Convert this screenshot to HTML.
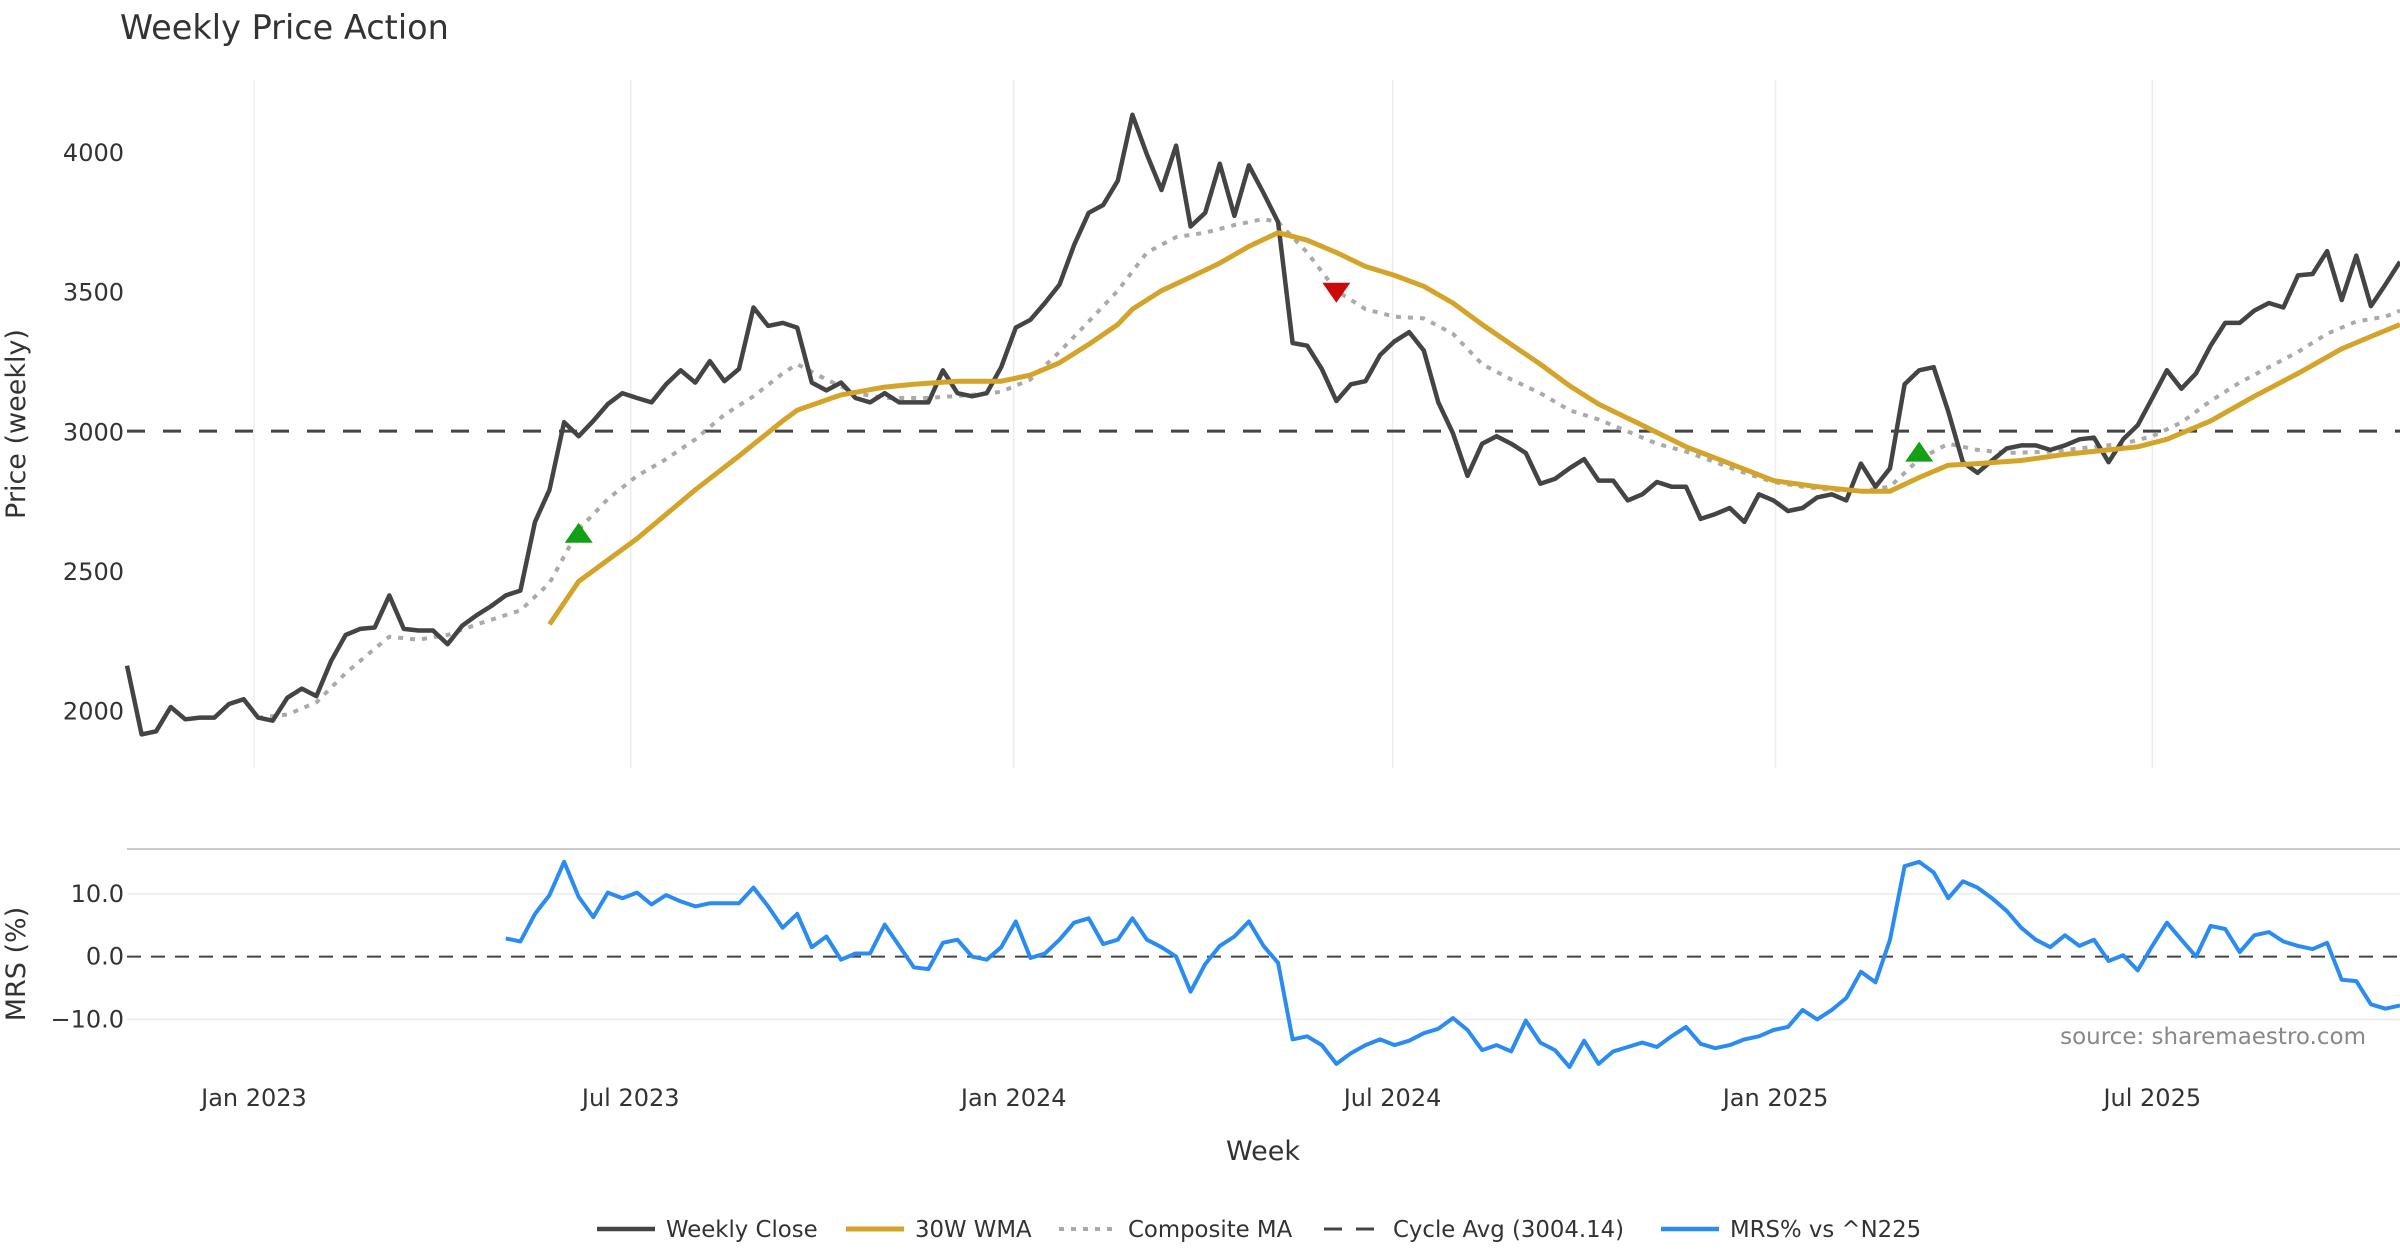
<!DOCTYPE html>
<html><head><meta charset="utf-8"><title>Weekly Price Action</title>
<style>
html,body{margin:0;padding:0;background:#fff;}
svg{display:block;font-family:"DejaVu Sans","Liberation Sans",sans-serif;}
</style></head>
<body>
<svg id="chart" width="2400" height="1260" viewBox="0 0 2400 1260" xmlns="http://www.w3.org/2000/svg">
<text x="120" y="39" font-size="33.5" fill="#333">Weekly Price Action</text>
<g id="price-panel"></g>
<g id="mrs-panel"></g>
<text transform="translate(25,424) rotate(-90)" text-anchor="middle" font-size="27" fill="#333">Price (weekly)</text>
<text transform="translate(25,964) rotate(-90)" text-anchor="middle" font-size="27" fill="#333">MRS (%)</text>
<text x="1263" y="1160" text-anchor="middle" font-size="27" fill="#333">Week</text>
<text x="2366" y="1044" text-anchor="end" font-size="23" fill="#888">source: sharemaestro.com</text>
<g id="legend"></g>
</svg>
<script>
const startDate = "2022-11-01";
const closeValues = [2164,1918,1929,2016,1972,1978,1978,2027,2044,1978,
1967,2049,2082,2055,2180,2274,2296,2301,2416,2296,
2290,2290,2241,2307,2345,2378,2416,2433,2679,2794,
3036,2986,3041,3101,3140,3123,3107,3172,3222,3178,
3255,3183,3227,3447,3381,3392,3375,3178,3150,3178,
3123,3107,3140,3107,3107,3107,3222,3140,3129,3140,
3233,3375,3403,3463,3529,3671,3786,3814,3901,4137,
3995,3868,4027,3737,3786,3962,3775,3956,3857,3753,
3320,3310,3227,3112,3172,3183,3277,3326,3359,3293,
3107,2997,2844,2959,2986,2959,2926,2816,2833,2871,
2904,2827,2827,2756,2778,2822,2805,2805,2690,2707,
2729,2679,2778,2756,2718,2729,2767,2778,2756,2888,
2805,2871,3172,3222,3233,3074,2893,2855,2899,2942,
2953,2953,2937,2953,2975,2981,2893,2975,3025,3123,
3222,3156,3211,3310,3392,3392,3436,3463,3447,3562,
3567,3649,3474,3633,3452,3529,3611];
const wmaWeeks = [29,31,35,39,42,45,46,49,52,54,57,60,62,64,66,68,69,71,73,75,77,79,81,83,85,87,89,91,93,95,97,99,101,104,107,110,113,116,119,121,123,125,127,130,133,136,138,140,143,146,149,152,154,156];
const wmaValues = [2312,2466,2619,2794,2915,3041,3079,3134,3162,3172,3183,3183,3205,3249,3315,3386,3441,3507,3556,3606,3666,3715,3688,3644,3594,3562,3523,3463,3386,3315,3244,3167,3101,3025,2948,2888,2827,2805,2789,2789,2838,2882,2888,2899,2921,2937,2948,2975,3041,3129,3211,3299,3343,3386];
const compWeeks = [9,11,13,15,17,18,20,22,24,27,29,31,33,35,37,39,41,43,45,46,48,50,52,55,58,60,62,64,66,68,70,72,74,76,78,79,81,83,85,87,89,91,93,95,97,99,101,103,105,107,109,111,113,115,117,119,121,123,125,127,129,132,135,137,139,141,143,145,147,149,151,153,155,156];
const compValues = [1978,1989,2033,2137,2225,2268,2257,2274,2312,2362,2460,2652,2761,2844,2904,2975,3063,3129,3211,3244,3189,3140,3123,3123,3134,3145,3189,3288,3397,3507,3644,3699,3715,3742,3764,3753,3644,3507,3441,3414,3408,3353,3244,3189,3140,3079,3046,3003,2959,2931,2893,2855,2822,2805,2794,2789,2805,2904,2959,2937,2926,2931,2948,2959,2986,3035,3112,3178,3233,3288,3353,3397,3414,3436];
const cycleAvg = 3004.14;
const signalWeeks = [31,83,123];
const signalValues = [2640,3500,2931];
const signalTypes = ["up","down","up"];
const mrsStart = 26;
const mrsValues = [2.9,2.4,6.8,9.8,15.1,9.5,6.3,10.2,9.3,10.2,
8.3,9.8,8.8,8.0,8.5,8.5,8.5,11.0,8.0,4.6,
6.8,1.5,3.2,-0.5,0.5,0.5,5.1,1.7,-1.7,-2.0,
2.2,2.7,0,-0.5,1.5,5.6,-0.2,0.5,2.7,5.4,
6.1,2.0,2.7,6.1,2.7,1.5,0,-5.6,-1.2,1.7,
3.2,5.6,1.7,-1.0,-13.2,-12.7,-14.1,-17.1,-15.4,-14.1,
-13.2,-14.1,-13.4,-12.2,-11.5,-9.8,-11.7,-14.9,-14.1,-15.1,
-10.2,-13.7,-14.9,-17.6,-13.4,-17.1,-15.1,-14.4,-13.7,-14.4,
-12.7,-11.2,-13.9,-14.6,-14.1,-13.2,-12.7,-11.7,-11.2,-8.5,
-10.0,-8.5,-6.6,-2.4,-4.1,2.7,14.4,15.1,13.4,9.3,
12.0,11.0,9.3,7.3,4.6,2.7,1.5,3.4,1.7,2.7,
-0.7,0.2,-2.2,1.7,5.4,2.7,0,4.9,4.4,0.7,
3.4,3.9,2.4,1.7,1.2,2.2,-3.7,-3.9,-7.6,-8.3,
-7.8];
const priceTicks = [2000,2500,3000,3500,4000];
const mrsTicks = [-10,0,10];
const mrsTickLabels = ["\u221210.0","0.0","10.0"];
const dateTicks = ["2023-01-01","2023-07-01","2024-01-01","2024-07-01","2025-01-01","2025-07-01"];
const dateTickLabels = ["Jan 2023","Jul 2023","Jan 2024","Jul 2024","Jan 2025","Jul 2025"];

const NS = "http://www.w3.org/2000/svg";
const X0 = 127, X1 = 2400, DX = (X1 - X0) / 156;
const t0 = Date.parse(startDate);
function xWeek(i){ return X0 + i * DX; }
function xDate(s){ return X0 + (Date.parse(s) - t0) / 86400000 / 7 * DX; }
function yPrice(p){ return 711.5 - (p - 2000) * 139.6 / 500; }
function yMrs(v){ return 956.6 - v * 6.275; }
function mk(tag, attrs, parent){ const e = document.createElementNS(NS, tag); for (const k in attrs) e.setAttribute(k, attrs[k]); parent.appendChild(e); return e; }

const pp = document.getElementById('price-panel');
const mp = document.getElementById('mrs-panel');

dateTicks.forEach((d, k) => {
  const g = mk('line', {x1:xDate(d), x2:xDate(d), y1:80, y2:768, stroke:'#ececec', 'stroke-width':1.5}, pp);
  
  
  const t = mk('text', {x:xDate(d), y:1106, 'text-anchor':'middle', 'font-size':24, fill:'#333'}, mp);
  t.textContent = dateTickLabels[k];
  
  
});
priceTicks.forEach(p => {
  const t = mk('text', {x:124, y:yPrice(p) + 8, 'text-anchor':'end', 'font-size':24, fill:'#333'}, pp);
  t.textContent = String(p);
  
  
});
const ca = mk('line', {x1:X0, x2:X1, y1:yPrice(cycleAvg), y2:yPrice(cycleAvg), stroke:'#444', 'stroke-width':3, 'stroke-dasharray':'18,18'}, pp);



function poly(xs, ys, attrs, parent, name){
  const pts = xs.map((x, k) => x.toFixed(1) + ',' + ys[k].toFixed(1)).join(' ');
  const e = mk('polyline', Object.assign({points:pts, fill:'none', 'stroke-linejoin':'round'}, attrs), parent);
  
  
  return e;
}
poly(compWeeks.map(xWeek), compValues.map(yPrice), {stroke:'#aaaaaa', 'stroke-width':4, 'stroke-dasharray':'5,7'}, pp, 'composite-ma-line');
poly(closeValues.map((v,i)=>xWeek(i)), closeValues.map(yPrice), {stroke:'#444444', 'stroke-width':4.5}, pp, 'weekly-close-line');
poly(wmaWeeks.map(xWeek), wmaValues.map(yPrice), {stroke:'#d4a42a', 'stroke-width':5}, pp, 'wma-30w-line');
signalWeeks.forEach((w, k) => {
  const x = xWeek(w), y = yPrice(signalValues[k]);
  const pts = signalTypes[k] === 'up'
    ? `${x-14},${y+10} ${x+14},${y+10} ${x},${y-10}`
    : `${x-14},${y-10} ${x+14},${y-10} ${x},${y+10}`;
  const m = mk('polygon', {points:pts, fill: signalTypes[k]==='up' ? '#14a014' : '#cc0a0a'}, pp);
  
  
});

const bd = mk('line', {x1:X0, x2:X1, y1:849, y2:849, stroke:'#cccccc', 'stroke-width':2}, mp);


mrsTicks.forEach((v, k) => {
  if (v !== 0) {
    const g = mk('line', {x1:X0, x2:X1, y1:yMrs(v), y2:yMrs(v), stroke:'#ececec', 'stroke-width':1.5}, mp);
    
    
  }
  const t = mk('text', {x:124, y:yMrs(v) + 8, 'text-anchor':'end', 'font-size':24, fill:'#333'}, mp);
  t.textContent = mrsTickLabels[k];
  
  
});
const zl = mk('line', {x1:X0, x2:X1, y1:yMrs(0), y2:yMrs(0), stroke:'#444', 'stroke-width':2, 'stroke-dasharray':'14,10'}, mp);


poly(mrsValues.map((v,k)=>xWeek(mrsStart+k)), mrsValues.map(yMrs), {stroke:'#2a8cf0', 'stroke-width':4}, mp, 'mrs-line');

const lg = document.getElementById('legend');
const legendItems = [
  {x:597, label:'Weekly Close', stroke:'#444444', dash:'', w:4.5},
  {x:846, label:'30W WMA', stroke:'#d4a42a', dash:'', w:5},
  {x:1059, label:'Composite MA', stroke:'#aaaaaa', dash:'5,7', w:4},
  {x:1324, label:'Cycle Avg (3004.14)', stroke:'#444444', dash:'18,14', w:3},
  {x:1661, label:'MRS% vs ^N225', stroke:'#2a8cf0', dash:'', w:4.5}
];
legendItems.forEach(it => {
  const g = mk('g', {}, lg);
  
  
  const l = mk('line', {x1:it.x, x2:it.x+58, y1:1229, y2:1229, stroke:it.stroke, 'stroke-width':it.w}, g);
  if (it.dash) l.setAttribute('stroke-dasharray', it.dash);
  const t = mk('text', {x:it.x+69, y:1237, 'font-size':22.8, fill:'#333'}, g);
  t.textContent = it.label;
});
</script>
</body></html>
